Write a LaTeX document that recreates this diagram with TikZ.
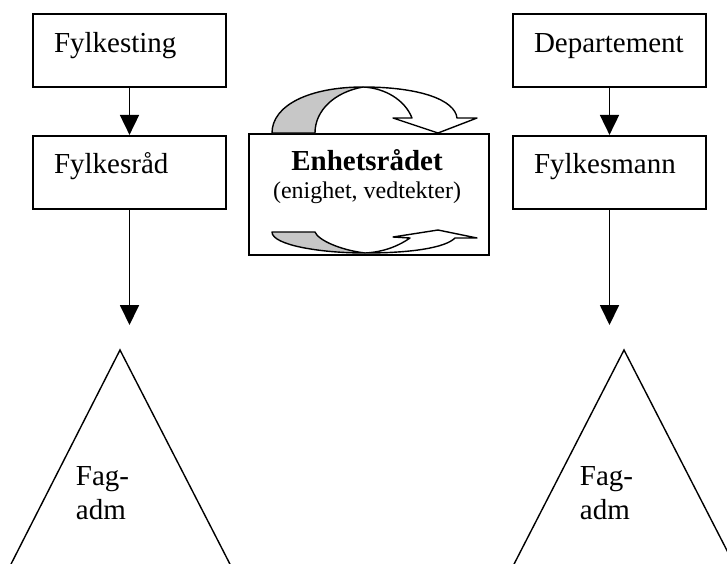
\documentclass[tikz,border=0pt]{standalone}
\usepackage{fontspec}
\setmainfont{Liberation Serif}
\usetikzlibrary{arrows.meta,positioning}
\definecolor{ribbon}{gray}{0.78}

\begin{document}
\begin{tikzpicture}[x=0.5pt, y=-0.5pt, line width=0.9pt,
    every node/.style={font=\fontsize{14.5}{17}\selectfont},
    orgbox/.style={draw, align=left, text width=75.5pt, inner xsep=10.5pt, inner ysep=0pt, text height=19pt, text depth=17.5pt},
    conn/.style={-{Triangle[length=10pt,width=9.5pt]}},
    band/.style={line width=0.7pt, line join=round}]
    \useasboundingbox (0,0) rectangle (727,563);

    % fylke side and state side
    \node[orgbox] (fting) at (129.5,50.5) {Fylkesting};
    \node[orgbox, below=23.5pt of fting] (frad) {Fylkesråd};
    \node[orgbox] (dep) at (609.5,50.5) {Departement};
    \node[orgbox, below=23.5pt of dep] (fmann) {Fylkesmann};

    \coordinate (endL) at (129.5,325);
    \coordinate (endR) at (609.5,325);
    \draw[conn] (fting) -- (frad);
    \draw[conn] (dep) -- (fmann);
    \draw[conn] (frad) -- (endL);
    \draw[conn] (fmann) -- (endR);

    % the council in the middle
    \node[draw, minimum width=120pt, minimum height=60.5pt, inner sep=0pt] (enh) at (369,194.5) {};
    \node[anchor=base] (enhtitle) at (367,170) {\textbf{Enhetsrådet}};
    \node[anchor=base, font=\fontsize{12}{14}\selectfont] (enhsub) at (367,198) {(enighet, vedtekter)};

    % curved arrows
    \draw[band, fill=ribbon] (272,133) .. controls (272,105) and (310,87) .. (363,87)
        .. controls (335,92) and (315,110) .. (315,133) -- cycle;
    \draw[band, fill=white] (363,87) .. controls (420,87) and (455,100) .. (457,118)
        -- (477,118) -- (438,133) -- (393,118) -- (412,118)
        .. controls (405,100) and (385,88) .. (363,87) -- cycle;
    \draw[band, fill=ribbon] (272,232) .. controls (272,245) and (320,253) .. (365,253)
        .. controls (340,250) and (318,240) .. (315,232) -- cycle;
    \draw[band, fill=white] (365,253) .. controls (410,253) and (445,248) .. (455,238)
        -- (477,238) -- (438,230) -- (393,237) -- (410,238)
        .. controls (400,245) and (385,252) .. (365,253) -- cycle;

    % administrations
    \begin{scope}
        \clip (0,0) rectangle (727,563);
        \draw[line width=0.7pt] (8,570) -- (120,350) -- (233,570);
        \draw[line width=0.7pt] (511,570) -- (624,350) -- (737,570);
    \end{scope}
    \node[anchor=base west, align=left, inner sep=0pt] (fagL) at (75,519) {Fag-\\adm};
    \node[anchor=base west, align=left, inner sep=0pt] (fagR) at (579,519) {Fag-\\adm};
\end{tikzpicture}
\end{document}
